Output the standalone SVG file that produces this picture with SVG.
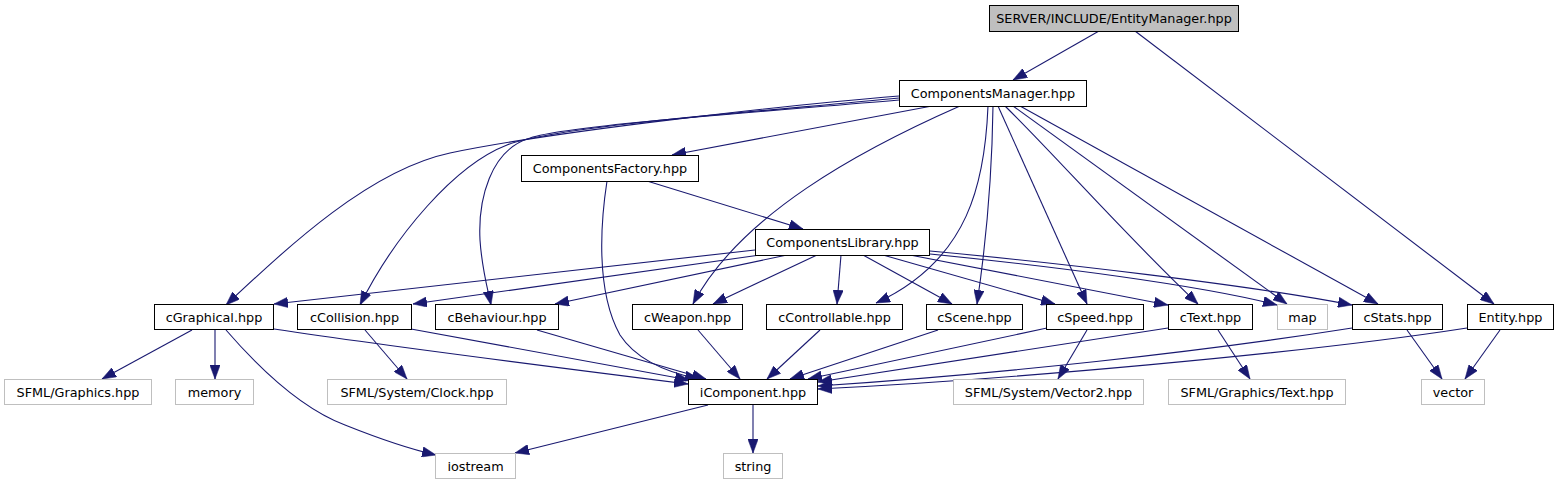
<svg xmlns="http://www.w3.org/2000/svg" width="1559" height="485" viewBox="0 0 1559 485">
<style>
.n rect{fill:#fff;stroke:#000;stroke-width:1}
.n.root rect{fill:#bfbfbf}
.n.ext rect{stroke:#bfbfbf}
.n text{font-family:"DejaVu Sans","Liberation Sans",sans-serif;font-size:12.8px;fill:#000;text-anchor:middle}
#edges path{fill:none;stroke:#191970;stroke-width:1.1;marker-end:url(#a)}
</style>
<defs>
<marker id="a" viewBox="0 0 14 10.4" refX="14" refY="5.2" markerWidth="14" markerHeight="10.4" orient="auto" markerUnits="userSpaceOnUse">
<path d="M0,0 L14,5.2 L0,10.4 z" fill="#191970" stroke="#191970" stroke-width="0.5"/>
</marker>
</defs>
<rect width="1559" height="485" fill="#fff"/>
<g id="edges">
<path d="M1099,31 L1013,80"/>
<path d="M1135,31 L1494,304"/>
<path d="M932,106 L672,155"/>
<path d="M899,96 C800,104 560,130 450,153 C370,170 290,245 226,305"/>
<path d="M899,98 C780,110 560,125 507,145 C455,165 395,235 360,305"/>
<path d="M899,100 C760,112 570,125 530,138 C490,150 478,200 480,240 C482,270 488,290 491,305"/>
<path d="M960,106 C860,150 740,215 693,304"/>
<path d="M988,106 C985,180 970,260 876,303"/>
<path d="M993,106 C992,180 985,250 977,304"/>
<path d="M998,106 L1087,304"/>
<path d="M1005,106 C1060,160 1120,230 1198,304"/>
<path d="M1013,106 L1287,304"/>
<path d="M1020,106 L1378,304"/>
<path d="M647,181 L803,229"/>
<path d="M607,181 C601,220 595,290 620,335 C635,358 665,372 699,379"/>
<path d="M755,250 L274,304"/>
<path d="M760,255 L413,304"/>
<path d="M787,255 L555,304"/>
<path d="M817,255 L713,304"/>
<path d="M841,255 L837,304"/>
<path d="M863,255 L952,304"/>
<path d="M883,255 L1055,304"/>
<path d="M910,255 L1168,305"/>
<path d="M930,254 C1050,266 1200,285 1277,305"/>
<path d="M930,251 C1050,262 1250,285 1352,305"/>
<path d="M192,330 L102,379"/>
<path d="M215,330 L215,379"/>
<path d="M226,330 C265,375 305,410 345,425 C375,437 405,448 436,455"/>
<path d="M274,329 C400,348 560,368 688,384"/>
<path d="M365,330 L407,379"/>
<path d="M411,329 L689,380"/>
<path d="M537,330 L706,379"/>
<path d="M698,330 L740,379"/>
<path d="M820,330 L767,379"/>
<path d="M938,330 L790,379"/>
<path d="M1047,328 L808,379"/>
<path d="M1087,330 L1058,379"/>
<path d="M1168,328 L818,382"/>
<path d="M1218,330 L1250,379"/>
<path d="M1352,328 C1200,352 1000,374 818,386"/>
<path d="M1407,330 L1442,379"/>
<path d="M1467,328 C1300,354 1000,380 818,389"/>
<path d="M1500,330 L1465,379"/>
<path d="M708,405 L515,453"/>
<path d="M753,405 L753,453"/>
</g>
<g id="EntityManager" class="n root"><rect x="989.5" y="5.5" width="249" height="26"/><text x="1114" y="23">SERVER/INCLUDE/EntityManager.hpp</text></g>
<g id="ComponentsManager" class="n"><rect x="899.5" y="80.5" width="187" height="26"/><text x="993" y="98">ComponentsManager.hpp</text></g>
<g id="ComponentsFactory" class="n"><rect x="521.5" y="155.5" width="177" height="26"/><text x="610" y="173">ComponentsFactory.hpp</text></g>
<g id="ComponentsLibrary" class="n"><rect x="755.5" y="229.5" width="174" height="26"/><text x="842.5" y="247">ComponentsLibrary.hpp</text></g>
<g id="cGraphical" class="n"><rect x="154.5" y="304.5" width="119" height="25"/><text x="214" y="321.5">cGraphical.hpp</text></g>
<g id="cCollision" class="n"><rect x="297.5" y="304.5" width="114" height="25"/><text x="354.5" y="321.5">cCollision.hpp</text></g>
<g id="cBehaviour" class="n"><rect x="435.5" y="304.5" width="123" height="25"/><text x="497" y="321.5">cBehaviour.hpp</text></g>
<g id="cWeapon" class="n"><rect x="632.5" y="304.5" width="110" height="25"/><text x="687.5" y="321.5">cWeapon.hpp</text></g>
<g id="cControllable" class="n"><rect x="766.5" y="304.5" width="136" height="25"/><text x="834.5" y="321.5">cControllable.hpp</text></g>
<g id="cScene" class="n"><rect x="926.5" y="304.5" width="96" height="25"/><text x="974.5" y="321.5">cScene.hpp</text></g>
<g id="cSpeed" class="n"><rect x="1046.5" y="304.5" width="97" height="25"/><text x="1095" y="321.5">cSpeed.hpp</text></g>
<g id="cText" class="n"><rect x="1168.5" y="304.5" width="84" height="25"/><text x="1210.5" y="321.5">cText.hpp</text></g>
<g id="map" class="n ext"><rect x="1277.5" y="304.5" width="50" height="25"/><text x="1302.5" y="321.5">map</text></g>
<g id="cStats" class="n"><rect x="1352.5" y="304.5" width="90" height="25"/><text x="1397.5" y="321.5">cStats.hpp</text></g>
<g id="Entity" class="n"><rect x="1467.5" y="304.5" width="86" height="25"/><text x="1510.5" y="321.5">Entity.hpp</text></g>
<g id="SFMLGraphics" class="n ext"><rect x="4.5" y="379.5" width="147" height="25"/><text x="78" y="396.5">SFML/Graphics.hpp</text></g>
<g id="memory" class="n ext"><rect x="175.5" y="379.5" width="78" height="25"/><text x="214.5" y="396.5">memory</text></g>
<g id="SFMLClock" class="n ext"><rect x="327.5" y="379.5" width="179" height="25"/><text x="417" y="396.5">SFML/System/Clock.hpp</text></g>
<g id="iComponent" class="n"><rect x="688.5" y="379.5" width="129" height="25"/><text x="753" y="396.5">iComponent.hpp</text></g>
<g id="SFMLVector2" class="n ext"><rect x="953.5" y="379.5" width="190" height="25"/><text x="1048.5" y="396.5">SFML/System/Vector2.hpp</text></g>
<g id="SFMLText" class="n ext"><rect x="1168.5" y="379.5" width="177" height="25"/><text x="1257" y="396.5">SFML/Graphics/Text.hpp</text></g>
<g id="vector" class="n ext"><rect x="1421.5" y="379.5" width="63" height="25"/><text x="1453" y="396.5">vector</text></g>
<g id="iostream" class="n ext"><rect x="435.5" y="453.5" width="80" height="25"/><text x="475.5" y="470.5">iostream</text></g>
<g id="string" class="n ext"><rect x="723.5" y="453.5" width="59" height="25"/><text x="753" y="470.5">string</text></g>
</svg>
